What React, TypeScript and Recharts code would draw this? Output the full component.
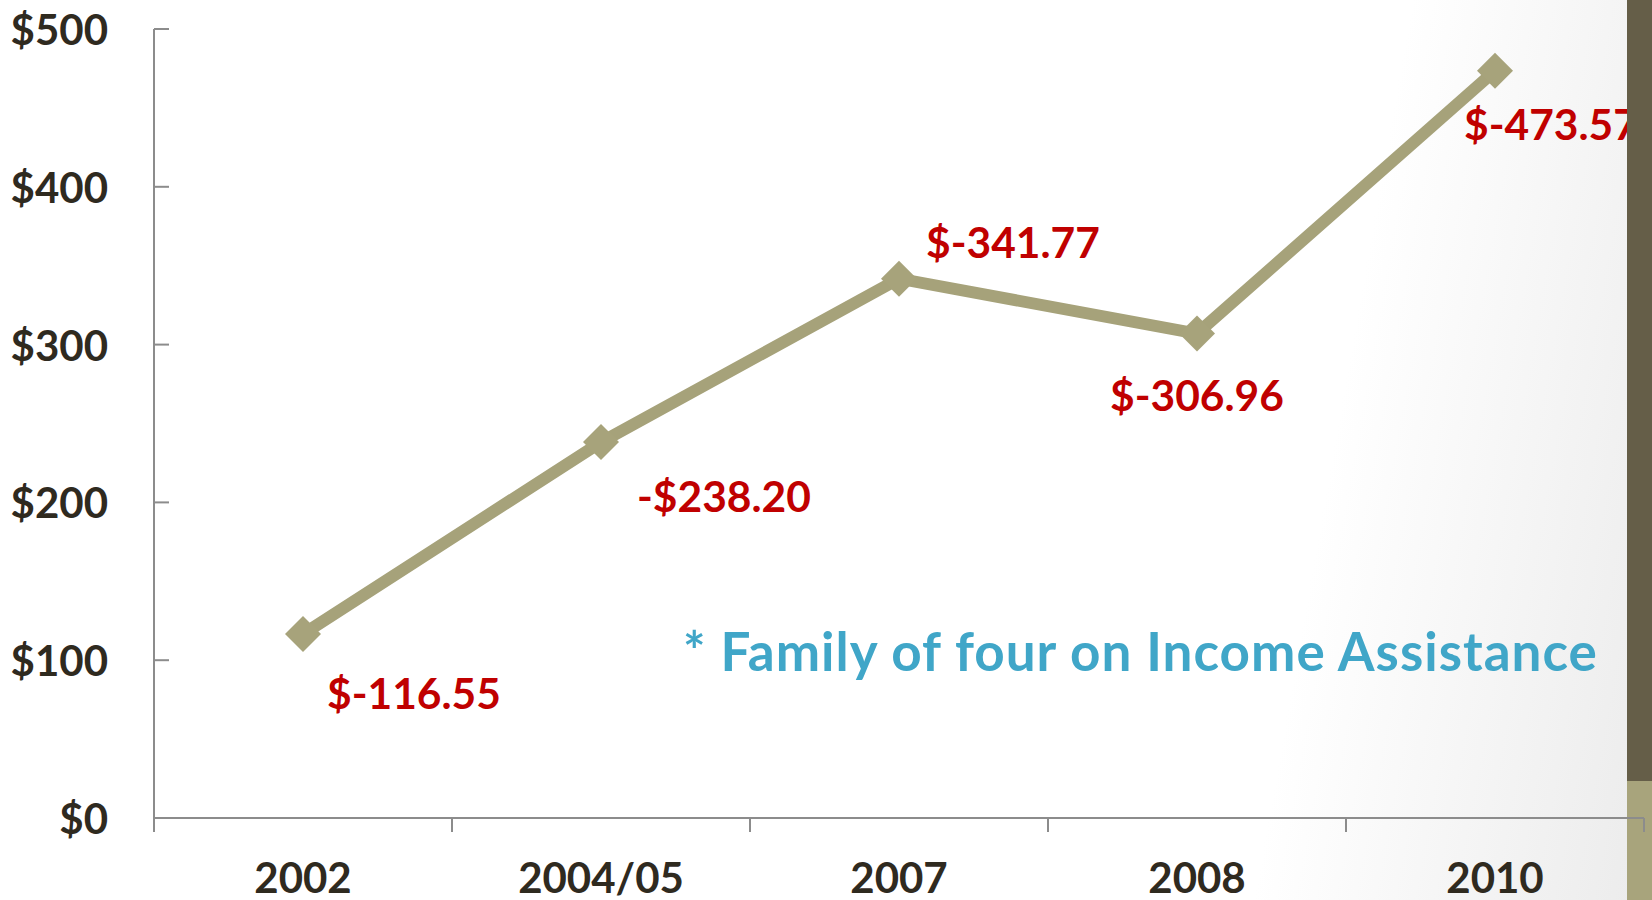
import React from 'react';
import { LineChart, Line, XAxis, YAxis, LabelList } from 'recharts';

// categories and values
const years = ['2002', '2004/05', '2007', '2008', '2010'];
const shortfall = [116.55, 238.2, 341.77, 306.96, 473.57];
const valueLabels = ['$-116.55', '-$238.20', '$-341.77', '$-306.96', '$-473.57'];
const yTicks = [0, 100, 200, 300, 400, 500];
const note = '* Family of four on Income Assistance';

const W = 1652;
const H = 900;
const PLOT_LEFT = 154;
const PLOT_RIGHT = 1644;
const HALF_BAND = (PLOT_RIGHT - PLOT_LEFT) / years.length / 2;

const FONT = 'Lato, "Open Sans", sans-serif';
const AXIS_GREY = '#8c8c8c';
const TEXT_DARK = '#2f2a1f';
const LINE_KHAKI = '#a6a27a';
const LABEL_RED = '#c00000';

// label placement relative to each point (x offset, y offset, anchor)
const labelPlacement = [
    { dx: 24, dy: 58, anchor: 'start' },
    { dx: 36, dy: 53, anchor: 'start' },
    { dx: 27, dy: -37, anchor: 'start' },
    { dx: 0, dy: 61, anchor: 'middle' },
    { dx: -31, dy: 53, anchor: 'start' },
];

const chartData = years.map((year, i) => ({
    year,
    value: shortfall[i],
    label: valueLabels[i],
}));

const YTick = (props: any) => {
    const { x, y, payload } = props;
    return (
        <g>
            <line x1={x} x2={x + 15} y1={y} y2={y} stroke={AXIS_GREY} strokeWidth={2} />
            <text
                x={x - 46}
                y={y}
                textAnchor="end"
                dominantBaseline="central"
                fill={TEXT_DARK}
                fontFamily={FONT}
                fontWeight={700}
                fontSize={42}
            >
                {'$' + payload.value}
            </text>
        </g>
    );
};

const XTick = (props: any) => {
    const { x, y, payload, index } = props;
    const half = payload.offset || HALF_BAND;
    return (
        <g>
            <line x1={x - half} x2={x - half} y1={y} y2={y + 14} stroke={AXIS_GREY} strokeWidth={2} />
            {index === years.length - 1 && (
                <line x1={x + half} x2={x + half} y1={y} y2={y + 14} stroke={AXIS_GREY} strokeWidth={2} />
            )}
            <text
                x={x}
                y={y + 59}
                textAnchor="middle"
                dominantBaseline="central"
                fill={TEXT_DARK}
                fontFamily={FONT}
                fontWeight={700}
                fontSize={42}
            >
                {payload.value}
            </text>
        </g>
    );
};

const renderDiamond = (props: any) => {
    const { cx, cy, index } = props;
    const r = 18;
    return (
        <polygon
            key={`diamond-${index}`}
            points={`${cx - r},${cy} ${cx},${cy - r} ${cx + r},${cy} ${cx},${cy + r}`}
            fill="#a7a37b"
        />
    );
};

const renderValueLabel = (props: any) => {
    const { x, y, value } = props;
    const i = valueLabels.indexOf(value);
    const p = labelPlacement[i] || { dx: 0, dy: 0, anchor: 'middle' };
    return (
        <text
            x={x + p.dx}
            y={y + p.dy}
            textAnchor={p.anchor}
            dominantBaseline="central"
            fill={LABEL_RED}
            fontFamily={FONT}
            fontWeight={700}
            fontSize={42.5}
        >
            {value}
        </text>
    );
};

export default function App() {
    return (
        <div
            style={{
                position: 'absolute',
                left: 0,
                top: 0,
                width: W,
                height: H,
                overflow: 'hidden',
                background: 'linear-gradient(100deg, #ffffff 0%, #ffffff 78%, #ebebeb 100%)',
            }}
        >
            {/* khaki strip at the lower right, under the chart */}
            <div style={{ position: 'absolute', left: 1627, top: 781, width: 25, height: 119, background: '#a8a47c' }} />
            <LineChart
                width={W}
                height={H}
                data={chartData}
                margin={{ top: 29, right: W - PLOT_RIGHT, bottom: 0, left: 0 }}
            >
                <XAxis
                    dataKey="year"
                    scale="band"
                    height={82}
                    tickSize={0}
                    tickMargin={0}
                    tickLine={false}
                    axisLine={{ stroke: AXIS_GREY, strokeWidth: 2 }}
                    tick={XTick}
                    interval={0}
                />
                <YAxis
                    width={PLOT_LEFT}
                    domain={[0, 500]}
                    ticks={yTicks}
                    tickSize={0}
                    tickMargin={0}
                    tickLine={false}
                    axisLine={{ stroke: AXIS_GREY, strokeWidth: 2 }}
                    tick={YTick}
                />
                <Line
                    type="linear"
                    dataKey="value"
                    stroke={LINE_KHAKI}
                    strokeWidth={12}
                    dot={renderDiamond}
                    activeDot={false}
                    isAnimationActive={false}
                >
                    <LabelList dataKey="label" content={renderValueLabel} />
                </Line>
            </LineChart>
            <div
                style={{
                    position: 'absolute',
                    left: 683,
                    top: 624,
                    fontFamily: FONT,
                    fontWeight: 700,
                    fontSize: 53,
                    lineHeight: '53px',
                    letterSpacing: 1,
                    color: '#40a6c8',
                    whiteSpace: 'nowrap',
                }}
            >
                {note}
            </div>
            {/* dark strip on the right edge, over the chart */}
            <div style={{ position: 'absolute', left: 1627, top: 0, width: 25, height: 781, background: '#655e48' }} />
        </div>
    );
}
